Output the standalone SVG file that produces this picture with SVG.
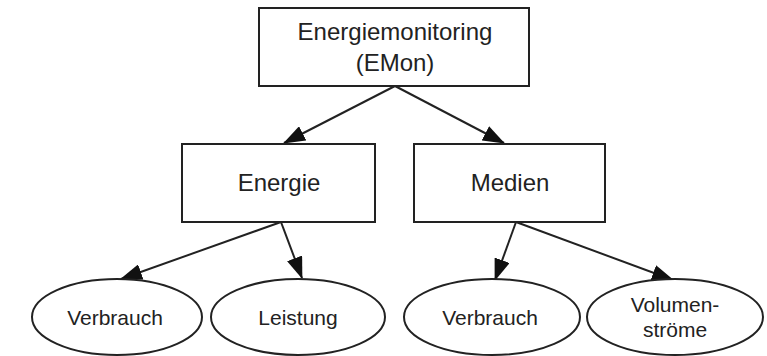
<svg xmlns="http://www.w3.org/2000/svg" width="767" height="356" viewBox="0 0 767 356">
<style>
.box{fill:#fff;stroke:#222;stroke-width:2}
.t{font-family:"Liberation Sans",Arial,sans-serif;fill:#222;text-anchor:middle}
.big{font-size:24px}
.small{font-size:21px}
.edge{stroke:#222;stroke-width:2;fill:none;marker-end:url(#arr)}
</style>
<defs>
<marker id="arr" markerUnits="userSpaceOnUse" markerWidth="22" markerHeight="16" refX="21" refY="8" orient="auto" viewBox="0 0 22 16">
<path d="M0,0 L22,8 L0,16 z" fill="#111"/>
</marker>
</defs>
<rect width="767" height="356" fill="#fff"/>
<g id="connectors">
<line class="edge" x1="395" y1="86" x2="284" y2="143"/>
<line class="edge" x1="395" y1="86" x2="504" y2="143"/>
<line class="edge" x1="281" y1="222" x2="121" y2="279"/>
<line class="edge" x1="281" y1="222" x2="302" y2="278"/>
<line class="edge" x1="516" y1="222" x2="495" y2="280"/>
<line class="edge" x1="516" y1="222" x2="673" y2="280"/>
</g>
<g id="node-emon">
<rect class="box" x="259" y="8" width="270" height="78"/>
<text class="t big" x="395" y="40">Energiemonitoring</text>
<text class="t big" x="395" y="71">(EMon)</text>
</g>
<g id="node-energie">
<rect class="box" x="182" y="144" width="193" height="78"/>
<text class="t big" x="279" y="191">Energie</text>
</g>
<g id="node-medien">
<rect class="box" x="414" y="144" width="191" height="78"/>
<text class="t big" x="510" y="191">Medien</text>
</g>
<g id="node-verbrauch1">
<ellipse class="box" cx="117" cy="317" rx="85" ry="38"/>
<text class="t small" x="115" y="325">Verbrauch</text>
</g>
<g id="node-leistung">
<ellipse class="box" cx="298" cy="317" rx="87" ry="38"/>
<text class="t small" x="298" y="325">Leistung</text>
</g>
<g id="node-verbrauch2">
<ellipse class="box" cx="492" cy="317" rx="88" ry="38"/>
<text class="t small" x="490" y="325">Verbrauch</text>
</g>
<g id="node-volumen">
<ellipse class="box" cx="675" cy="317" rx="88" ry="38"/>
<text class="t small" x="675" y="312">Volumen-</text>
<text class="t small" x="675" y="337">ströme</text>
</g>
</svg>
